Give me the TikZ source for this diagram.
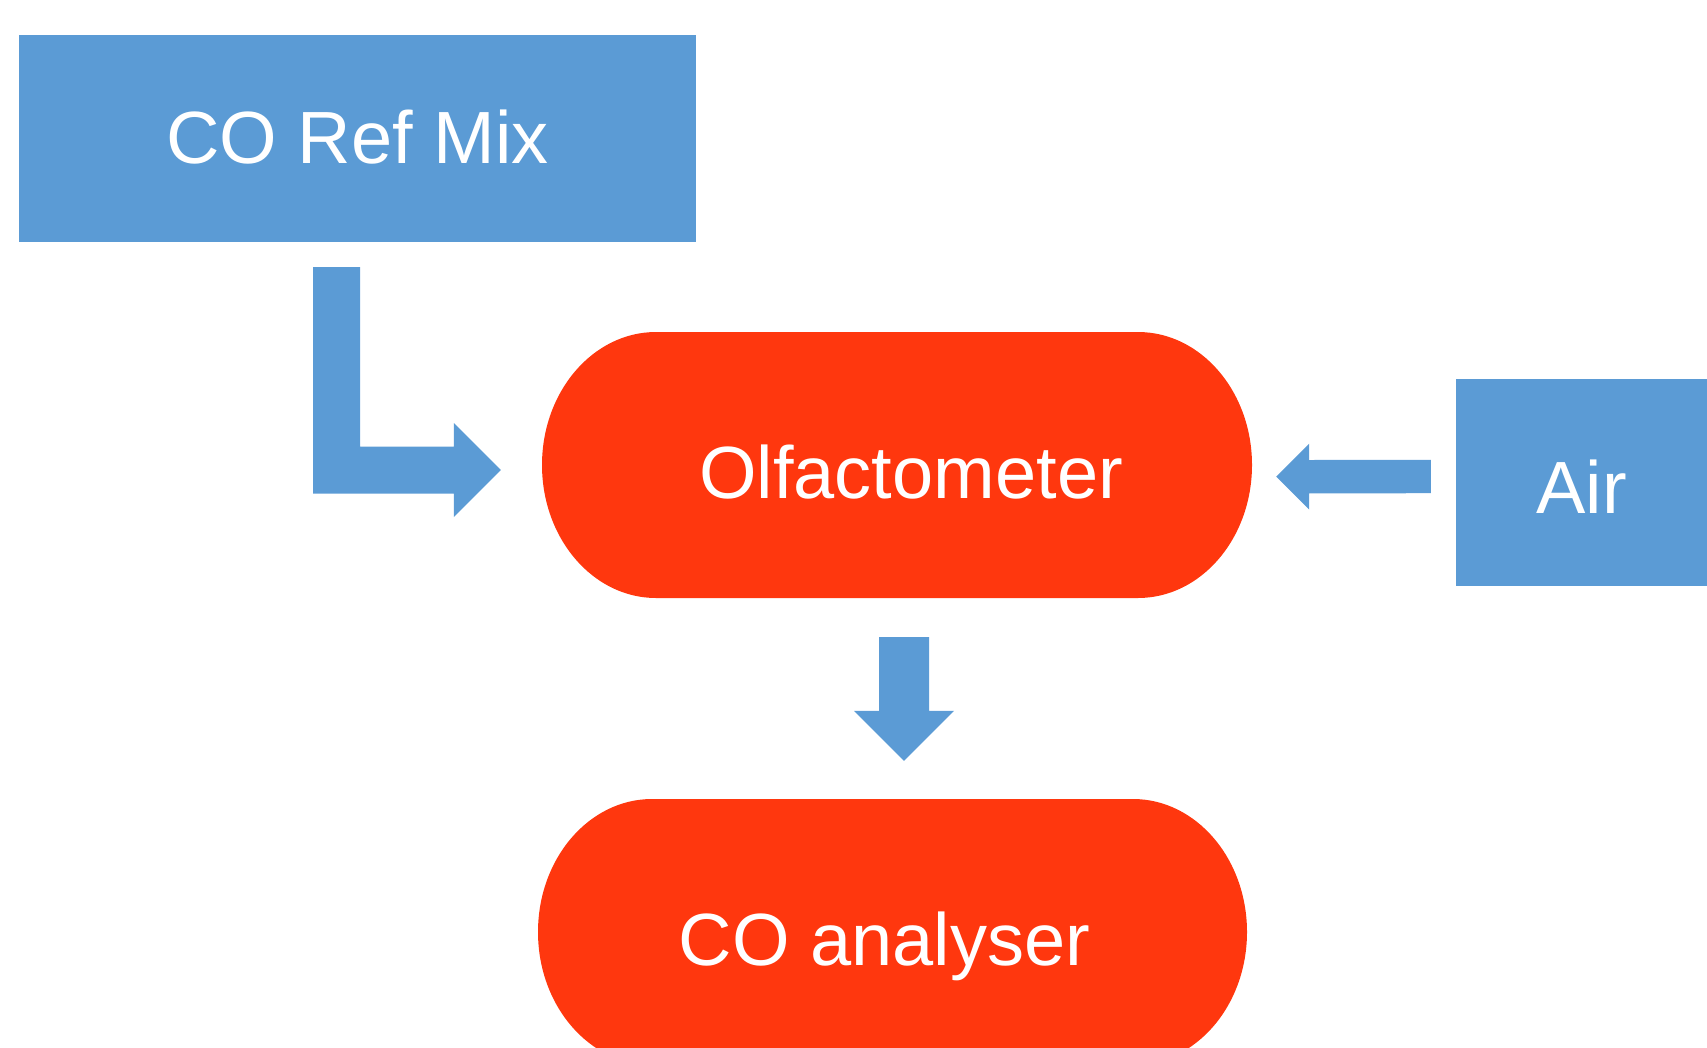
\documentclass[tikz,border=0pt]{standalone}
\usepackage{fontspec}
\setmainfont{Liberation Sans}
\usetikzlibrary{calc}
\definecolor{flowblue}{HTML}{5B9BD5}
\definecolor{stagered}{RGB}{255,55,14}
\begin{document}
\begin{tikzpicture}[x=1pt,y=-1pt,
  every node/.style={font=\fontsize{74}{89}\selectfont, text=white, inner sep=0pt},
  source/.style={fill=flowblue, minimum height=207pt},
  stage/.style={minimum width=710pt, minimum height=266pt, text height=67pt, text depth=0pt,
    path picture={
      \fill[stagered]
        ([xshift=114pt]path picture bounding box.north west)
        -- ([xshift=-114pt]path picture bounding box.north east)
        arc[start angle=90, end angle=-90, x radius=114pt, y radius=133pt]
        -- ([xshift=114pt]path picture bounding box.south west)
        arc[start angle=270, end angle=90, x radius=114pt, y radius=133pt]
        -- cycle;
    }},
  flow/.style={fill=flowblue}]
\useasboundingbox (0,0) rectangle (1707,1047);
\clip (0,0) rectangle (1707,1047);

% sources and stages
\node[source, minimum width=677pt, text height=49.6pt, text depth=0pt] (ref) at (357.5,138.5) {CO Ref Mix};
\node[source, minimum width=251pt, text height=61pt, text depth=0pt] (air) at (1581.5,482.5) {Air};
\node[stage] (olf) at (897,465) {\hspace*{28pt}Olfactometer};
\node[stage, minimum width=709pt] (ana) at (892.5,932) {CO analyser\hspace*{16pt}};

% end points of the block arrows
\coordinate (rs) at ($(ref.south)+(-21,25)$);
\coordinate (rt) at ($(olf.west)+(-41,5)$);
\coordinate (as) at ($(air.west)+(-25,-6)$);
\coordinate (at) at ($(olf.east)+(24,11.7)$);
\coordinate (os) at ($(olf.south)+(7,39)$);
\coordinate (ot) at ($(ana.north)+(11.5,-38)$);

% bent arrow: CO Ref Mix -> Olfactometer
\fill[flow] ($(rs)+(-23.5,0)$) -- ($(rs)+(23.5,0)$) -- ($(rs |- rt)+(23.5,-23.5)$)
  -- ($(rt)+(-47,-23.5)$) -- ($(rt)+(-47,-47)$) -- (rt) -- ($(rt)+(-47,47)$)
  -- ($(rt)+(-47,23.5)$) -- ($(rs |- rt)+(-23.5,23.5)$) -- cycle;

% Air -> Olfactometer
\fill[flow] ($(as)+(0,-16.7)$) -- ($(at)+(33,-16.7)$) -- ($(at)+(33,-33)$) -- (at)
  -- ($(at)+(33,33)$) -- ($(at)+(33,16.7)$) -- ($(as)+(0,16.7)$) -- cycle;

% Olfactometer -> CO analyser
\fill[flow] ($(os)+(-25,0)$) -- ($(os)+(25,0)$) -- ($(ot)+(25,-50)$) -- ($(ot)+(50,-50)$)
  -- (ot) -- ($(ot)+(-50,-50)$) -- ($(ot)+(-25,-50)$) -- cycle;
\end{tikzpicture}
\end{document}
